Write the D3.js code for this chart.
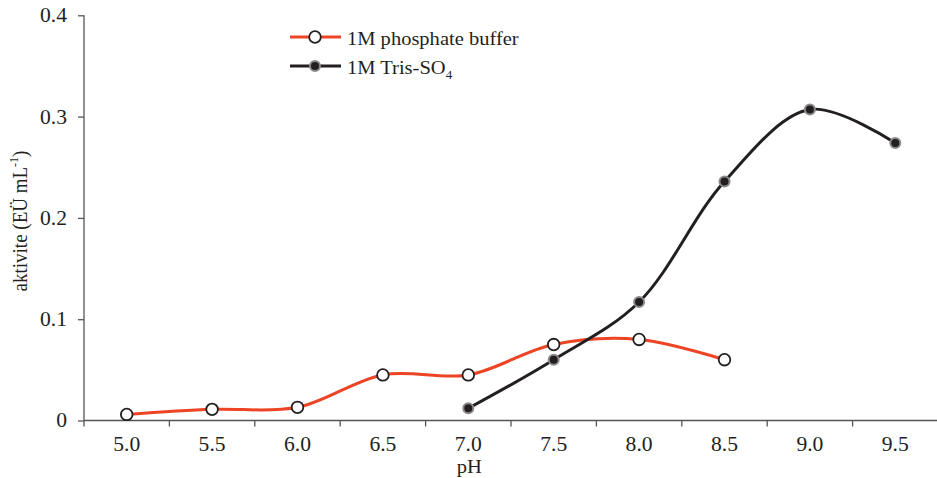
<!DOCTYPE html>
<html><head><meta charset="utf-8">
<script src="https://cdn.jsdelivr.net/npm/d3@7"></script>
<style>body{margin:0;background:#fff}svg{display:block}text{font-family:"Liberation Serif","Times New Roman",serif;fill:#231f20}</style>
</head><body><svg id="c" width="937" height="478"></svg>
<script>
const categories = ["5.0","5.5","6.0","6.5","7.0","7.5","8.0","8.5","9.0","9.5"];
const phosphateX = ["5.0","5.5","6.0","6.5","7.0","7.5","8.0","8.5"];
const phosphateY = [0.006,0.011,0.013,0.045,0.045,0.075,0.080,0.060];
const trisX = ["7.0","7.5","8.0","8.5","9.0","9.5"];
const trisY = [0.012,0.060,0.117,0.236,0.307,0.274];
const yTicks = [0,0.1,0.2,0.3,0.4];

const SX = 1.08; // horizontal text stretch seen in the reference
const svg = d3.select("#c");
const x = d3.scaleBand().domain(categories).range([84,938]);
const y = d3.scaleLinear().domain([0,0.4]).range([420.5,15.3]);
const axisColor = "#555";

// y axis
const ya = svg.append("g").attr("transform","translate(84,0)")
  .call(d3.axisLeft(y).tickValues(yTicks).tickSize(6).tickPadding(11)
    .tickFormat(d=> d===0 ? "0" : d3.format(".1f")(d)));
ya.attr("font-family",null);
ya.select(".domain").attr("stroke",axisColor).attr("stroke-width",1.3).attr("d","M0,15.3V420.5");
ya.selectAll(".tick line").attr("stroke",axisColor).attr("stroke-width",1.3);
ya.selectAll(".tick text").attr("font-size",20).attr("fill","#231f20")
  .attr("x",-17/SX).attr("transform",`scale(${SX},1)`);

// x axis
const xa = svg.append("g").attr("transform","translate(0,420.5)")
  .call(d3.axisBottom(x).tickSize(0).tickPadding(16));
xa.attr("font-family",null);
xa.select(".domain").attr("stroke",axisColor).attr("stroke-width",1.3).attr("d","M84,0H937");
xa.selectAll(".tick text").attr("font-size",20).attr("fill","#231f20").attr("transform",`scale(${SX},1)`);
xa.selectAll(".bt").data(categories.slice(1)).enter().append("line")
  .attr("x1",d=>x(d)).attr("x2",d=>x(d)).attr("y1",0).attr("y2",6)
  .attr("stroke",axisColor).attr("stroke-width",1.3);
xa.append("line").attr("x1",84).attr("x2",84).attr("y1",0).attr("y2",6).attr("stroke",axisColor).attr("stroke-width",1.3);

const cx = d => x(d)+x.bandwidth()/2;
const line = d3.line().x(d=>cx(d[0])).y(d=>y(d[1])).curve(d3.curveCatmullRom.alpha(0.5));

const pData = phosphateX.map((d,i)=>[d,phosphateY[i]]);
const tData = trisX.map((d,i)=>[d,trisY[i]]);
const red = "#ee4426", blk = "#231f20";

svg.append("path").datum(pData).attr("d",line).attr("fill","none").attr("stroke",red).attr("stroke-width",3);
svg.append("path").datum(tData).attr("d",line).attr("fill","none").attr("stroke",blk).attr("stroke-width",3);

svg.selectAll(".pm").data(pData).enter().append("circle")
  .attr("cx",d=>cx(d[0])).attr("cy",d=>y(d[1])).attr("r",5.8)
  .attr("fill","#fff").attr("stroke",blk).attr("stroke-width",1.8);
svg.selectAll(".tm").data(tData).enter().append("circle")
  .attr("cx",d=>cx(d[0])).attr("cy",d=>y(d[1])).attr("r",5)
  .attr("fill",blk).attr("stroke","#8a8a8a").attr("stroke-width",2);

// axis titles
svg.append("text").attr("transform",`translate(${cx("7.0")+1},472.5) scale(${SX},1)`)
  .attr("text-anchor","middle").attr("font-size",19).text("pH");
const yl = svg.append("text").attr("transform",`translate(27,221) rotate(-90) scale(1,${SX})`).attr("text-anchor","middle").attr("font-size",19);
yl.append("tspan").text("aktivite (EÜ mL");
yl.append("tspan").attr("font-size",12).attr("dy",-8).text("-1");
yl.append("tspan").attr("dy",8).text(")");

// legend
const leg = [{name:"1M phosphate buffer", c:red, fill:"#fff", st:blk, r:5.8, sw:1.8},
             {name:"1M Tris-SO", sub:"4", c:blk, fill:blk, st:"#8a8a8a", r:5, sw:2}];
leg.forEach((l,i)=>{
  const yy = 37 + i*29;
  svg.append("line").attr("x1",290).attr("x2",341).attr("y1",yy).attr("y2",yy).attr("stroke",l.c).attr("stroke-width",3);
  svg.append("circle").attr("cx",315).attr("cy",yy).attr("r",l.r).attr("fill",l.fill).attr("stroke",l.st).attr("stroke-width",l.sw);
  const t = svg.append("text").attr("transform",`translate(347,${yy+8}) scale(${SX},1)`).attr("font-size",19);
  t.append("tspan").text(l.name);
  if(l.sub){ t.append("tspan").attr("font-size",12).attr("dy",5).text(l.sub); }
});
</script></body></html>
